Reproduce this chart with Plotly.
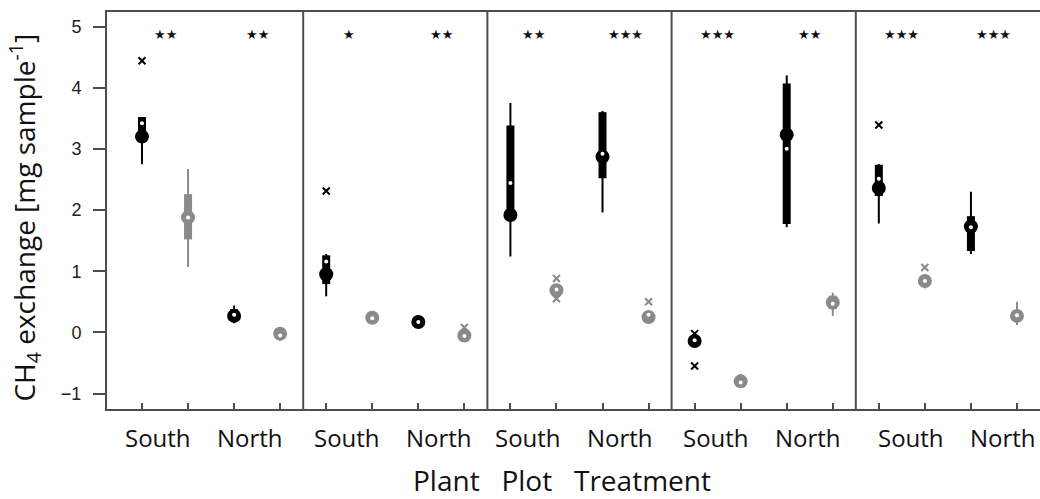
import plotly.graph_objects as go

# ---------------- data ----------------
panels = [0, 1, 2, 3, 4]
slot_offsets = [0.125, 0.375, 0.625, 0.875]   # S-black, S-gray, N-black, N-gray
side_labels = ["South", "North"]
label_shift = [-0.04, -0.01, -0.03, -0.01, 0.05]   # small per-panel label drift

# per group (panel-major, 4 groups per panel)
whisker_lo = [2.75, 1.07, 0.15, -0.14,
              0.59, 0.15, 0.12, -0.12,
              1.24, 0.60, 1.96, 0.18,
              -0.20, -0.90, 1.72, 0.27,
              1.78, 0.72, 1.28, 0.12]
q1 = [3.22, 1.52, 0.20, -0.10,
      0.79, 0.18, 0.14, -0.10,
      1.92, 0.63, 2.52, 0.20,
      -0.18, -0.86, 1.77, 0.38,
      2.23, 0.78, 1.33, 0.20]
median = [3.20, 1.88, 0.27, -0.02,
          0.95, 0.24, 0.17, -0.05,
          1.92, 0.69, 2.87, 0.25,
          -0.14, -0.80, 3.23, 0.49,
          2.36, 0.84, 1.73, 0.27]
q3 = [3.52, 2.26, 0.38, 0.02,
      1.26, 0.30, 0.22, 0.00,
      3.38, 0.76, 3.60, 0.34,
      -0.08, -0.72, 4.07, 0.60,
      2.74, 0.90, 1.90, 0.35]
whisker_hi = [3.52, 2.67, 0.44, 0.06,
              1.28, 0.33, 0.23, 0.02,
              3.75, 0.78, 3.62, 0.36,
              -0.05, -0.68, 4.20, 0.65,
              2.75, 0.92, 2.30, 0.50]
mean = [3.42, 1.88, 0.29, -0.05,
        1.16, 0.23, 0.17, -0.06,
        2.44, 0.70, 2.92, 0.29,
        -0.13, -0.82, 3.00, 0.47,
        2.51, 0.84, 1.72, 0.28]
outlier_group = [0, 4, 7, 9, 9, 11, 12, 12, 16, 17]
outlier_value = [4.44, 2.31, 0.08, 0.88, 0.55, 0.50, -0.02, -0.55, 3.39, 1.06]

stars = [2, 2, 1, 2, 2, 3, 3, 2, 3, 3]
star_level = 4.87

y_ticks = [-1, 0, 1, 2, 3, 4, 5]

BLACK = "#000000"
GRAY = "#8a8a8a"
AXIS = "#4d4d4d"
colors = [BLACK, GRAY, BLACK, GRAY]

# ---------------- positions ----------------
xpos = [p + o for p in panels for o in slot_offsets]
gcolor = [colors[i % 4] for i in range(len(xpos))]

fig = go.Figure()

for col in [BLACK, GRAY]:
    idx = [i for i in range(len(xpos)) if gcolor[i] == col]
    wx, wy, bx, by = [], [], [], []
    for i in idx:
        wx += [xpos[i], xpos[i], None]
        wy += [whisker_lo[i], whisker_hi[i], None]
        bx += [xpos[i], xpos[i], None]
        by += [q1[i], q3[i], None]
    fig.add_trace(go.Scatter(x=wx, y=wy, mode="lines",
                             line=dict(color=col, width=2), hoverinfo="skip"))
    fig.add_trace(go.Scatter(x=bx, y=by, mode="lines",
                             line=dict(color=col, width=8), hoverinfo="skip"))
    fig.add_trace(go.Scatter(x=[xpos[i] for i in idx], y=[median[i] for i in idx],
                             mode="markers",
                             marker=dict(color=col, size=14, line=dict(width=0))))
    fig.add_trace(go.Scatter(x=[xpos[i] for i in idx], y=[mean[i] for i in idx],
                             mode="markers",
                             marker=dict(color="white", size=4, line=dict(width=0))))
    ox = [xpos[g] for g in outlier_group if gcolor[g] == col]
    oy = [v for g, v in zip(outlier_group, outlier_value) if gcolor[g] == col]
    fig.add_trace(go.Scatter(x=ox, y=oy, mode="markers",
                             marker=dict(symbol="x-thin", size=7, color=col,
                                         line=dict(color=col, width=2))))

# panel separators
for p in panels[1:]:
    fig.add_shape(type="line", xref="x", yref="paper", x0=p, x1=p, y0=0, y1=1,
                  line=dict(color=AXIS, width=2))

# significance stars and South/North labels
for p in panels:
    for k, lab in enumerate(side_labels):
        cx = p + (slot_offsets[2 * k] + slot_offsets[2 * k + 1]) / 2
        fig.add_annotation(x=cx, y=star_level, text="\u2605" * stars[2 * p + k],
                           showarrow=False,
                           font=dict(family="DejaVu Sans", size=13, color="#111"),
                           xref="x", yref="y")
        fig.add_annotation(x=cx + label_shift[p], y=-0.073, xref="x", yref="paper",
                           text=lab, showarrow=False, yanchor="middle",
                           font=dict(family="Open Sans", size=24, color="#111"))

fig.add_annotation(xref="paper", yref="paper", x=0.4877, y=-0.178, yanchor="middle",
                   text="Plant   Plot   Treatment", showarrow=False,
                   font=dict(family="Open Sans", size=28, color="#111"))
fig.add_annotation(xref="paper", yref="paper", x=-0.088, y=0.482, textangle=-90,
                   xanchor="center", yanchor="middle",
                   text="CH<sub>4</sub> exchange [mg sample<sup>-1</sup>]", showarrow=False,
                   font=dict(family="Open Sans", size=28, color="#111"))

fig.update_layout(
    width=1040, height=499,
    margin=dict(l=107, r=0, t=12, b=90),
    paper_bgcolor="white", plot_bgcolor="white",
    showlegend=False,
    xaxis=dict(range=[-0.065, 5.0], tickvals=xpos, ticks="inside", ticklen=6,
               tickcolor=AXIS, tickwidth=2, showticklabels=False, showgrid=False,
               zeroline=False, showline=True, linecolor=AXIS, linewidth=2, mirror=True),
    yaxis=dict(range=[-1.252, 5.237], tickvals=y_ticks, ticks="outside", ticklen=12,
               tickcolor=AXIS, tickwidth=2, showgrid=False, zeroline=False,
               showline=True, linecolor=AXIS, linewidth=2,
               ticklabelstandoff=8,
               tickfont=dict(family="Liberation Sans", size=18, color="#222")),
)

fig.write_html("out.html", config={"displayModeBar": False},
               post_script="document.body.style.margin='0';document.body.style.overflow='hidden';")
